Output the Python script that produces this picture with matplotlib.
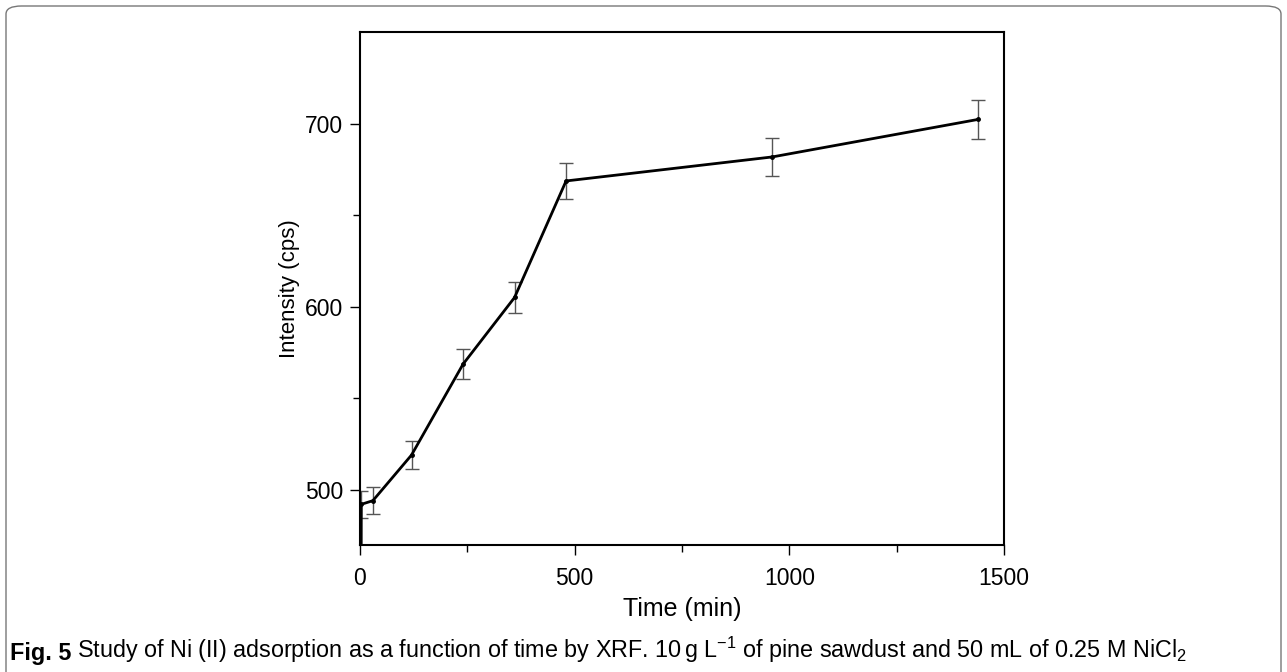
import matplotlib
matplotlib.use("Agg")
import matplotlib.pyplot as plt
from matplotlib.ticker import FixedLocator
from matplotlib.patches import FancyBboxPatch

# ---- data ----
time_min = [0, 3, 30, 120, 240, 360, 480, 960, 1440]
intensity = [0, 492.2, 494.2, 519.1, 568.7, 605.1, 668.7, 681.8, 702.3]
err = [0, 7.4, 7.3, 7.5, 8.2, 8.6, 9.9, 10.2, 10.5]
x_ticks = [0, 500, 1000, 1500]
x_minor = [250, 750, 1250]
y_ticks = [500, 600, 700]
y_minor = [550, 650]
x_label = "Time (min)"
y_label = "Intensity (cps)"
caption_bold = "Fig. 5"
caption_rest = ("Study of Ni (II) adsorption as a function of time by XRF. "
                "10$\\,$g L$^{-1}$ of pine sawdust and 50 mL of 0.25 M NiCl$_2$")

plt.rcParams['font.family'] = ['Liberation Sans', 'DejaVu Sans']
plt.rcParams['mathtext.fontset'] = 'custom'
plt.rcParams['mathtext.rm'] = 'Liberation Sans'
plt.rcParams['mathtext.it'] = 'Liberation Sans:italic'
plt.rcParams['mathtext.bf'] = 'Liberation Sans:bold'

fig = plt.figure(figsize=(12.87, 6.72), dpi=100)
ax = fig.add_axes([360/1287, 1-545/672, (1004-360)/1287, (545-32)/672])

ax.errorbar(time_min, intensity, yerr=err, fmt='none', ecolor='#555555',
            elinewidth=1.0, capsize=5, capthick=1.0, zorder=2)
ax.plot(time_min, intensity, color='black', lw=2.0, marker='o', ms=2.5,
        zorder=3)

ax.set_xlim(0, 1500)
ax.set_ylim(470, 750)
ax.set_xticks(x_ticks)
ax.set_yticks(y_ticks)
ax.xaxis.set_minor_locator(FixedLocator(x_minor))
ax.yaxis.set_minor_locator(FixedLocator(y_minor))
ax.tick_params(which='major', direction='out', length=7, width=1.0,
               labelsize=16.5, top=False, right=False)
ax.tick_params(axis='x', which='major', pad=9)
ax.tick_params(axis='y', which='major', pad=5)
ax.tick_params(which='minor', direction='out', length=5, width=1.0,
               top=False, right=False)
for s in ax.spines.values():
    s.set_linewidth(1.5)

ax.set_xlabel(x_label, fontsize=18, labelpad=5)
ax.set_ylabel(y_label, fontsize=16, labelpad=4)

# outer frame
frame = FancyBboxPatch((6/1287, -0.05), 1275/1287, 1.05 - 6/672,
                       boxstyle="round,pad=0,rounding_size=0.012",
                       transform=fig.transFigure, fill=False,
                       edgecolor='#777777', lw=1.0, clip_on=False)
fig.patches.append(frame)

t1 = fig.text(10/1287, 0.028, caption_bold, fontsize=16.8, fontweight='bold',
              va='center', ha='left')
fig.canvas.draw()
ax.annotate(caption_rest, xy=(1, 0), xycoords=t1, xytext=(4, 0),
            textcoords='offset points', fontsize=16.8,
            va='bottom', ha='left', annotation_clip=False)

fig.savefig("out.png", dpi=100)
